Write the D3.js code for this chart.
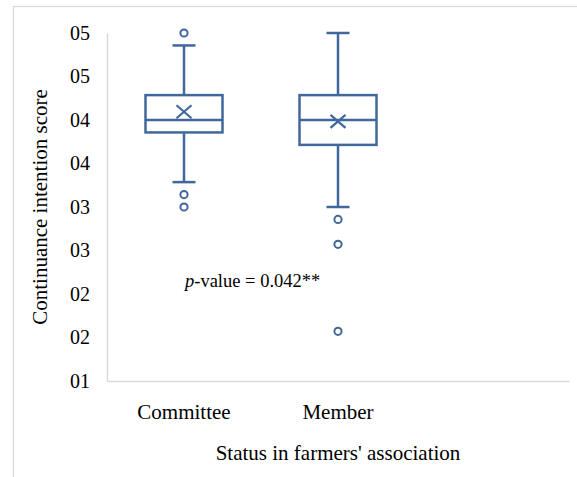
<!DOCTYPE html>
<html><head><meta charset="utf-8">
<script src="https://cdn.jsdelivr.net/npm/d3@7/dist/d3.min.js"></script>
<style>body{margin:0;background:#fff}svg{display:block}text{font-family:"Liberation Serif","Times New Roman",serif;fill:#000}</style>
</head><body><svg id="c" width="577" height="477"></svg>
<script>
const categories = ["Committee", "Member", ""];
const q1 = [3.857, 3.714];
const median = [4.0, 4.0];
const q3 = [4.286, 4.286];
const mean = [4.095, 3.985];
const whiskerLow = [3.286, 3.0];
const whiskerHigh = [4.857, 5.0];
const outliers = [[5.0, 3.143, 3.0], [2.857, 2.571, 1.571]];
const yTicks = [1, 1.5, 2, 2.5, 3, 3.5, 4, 4.5, 5];
const yTickLabels = ["01", "02", "02", "03", "03", "04", "04", "05", "05"];

(function () {
const svg = d3.select("#c");
const color = "#41689c";
const serif = '"Liberation Serif", "Times New Roman", serif';
const pL = 107, pR = 569, pT = 33, pB = 381;

svg.append("rect").attr("x", 13.5).attr("y", 6.5).attr("width", 600).attr("height", 500)
  .attr("fill", "none").attr("stroke", "#d9d9d9").attr("stroke-width", 1.2);

const x = d3.scaleBand().domain(categories).range([pL, pR]);
const y = d3.scaleLinear().domain([1, 5]).range([pB, pT]);

const yAxis = d3.axisLeft(y).tickValues(yTicks).tickSize(0).tickPadding(17)
  .tickFormat((d, i) => yTickLabels[i]);
const gy = svg.append("g").attr("transform", `translate(${pL},0)`).call(yAxis)
  .attr("font-family", serif).attr("font-size", 20);
gy.select(".domain").attr("stroke", "#d9d9d9").attr("stroke-width", 1.5);
gy.selectAll("text").attr("fill", "#000");

const xAxis = d3.axisBottom(x).tickSize(0).tickPadding(23);
const gx = svg.append("g").attr("transform", `translate(0,${pB})`).call(xAxis)
  .attr("font-family", serif).attr("font-size", 21);
gx.select(".domain").attr("stroke", "#d9d9d9").attr("stroke-width", 1.5);
gx.selectAll("text").attr("fill", "#000");

const bw = x.bandwidth() * 0.5;
const capW = 23;
const g = svg.append("g").attr("stroke", color).attr("stroke-width", 2.5).attr("fill", "none");
categories.slice(0, 2).forEach((c, i) => {
  const cx = x(c) + x.bandwidth() / 2;
  g.append("line").attr("x1", cx).attr("x2", cx).attr("y1", y(q3[i])).attr("y2", y(whiskerHigh[i]));
  g.append("line").attr("x1", cx).attr("x2", cx).attr("y1", y(q1[i])).attr("y2", y(whiskerLow[i]));
  g.append("line").attr("x1", cx - capW / 2).attr("x2", cx + capW / 2).attr("y1", y(whiskerHigh[i])).attr("y2", y(whiskerHigh[i]));
  g.append("line").attr("x1", cx - capW / 2).attr("x2", cx + capW / 2).attr("y1", y(whiskerLow[i])).attr("y2", y(whiskerLow[i]));
  g.append("rect").attr("x", cx - bw / 2).attr("width", bw).attr("y", y(q3[i])).attr("height", y(q1[i]) - y(q3[i])).attr("fill", "#fff");
  g.append("line").attr("x1", cx - bw / 2).attr("x2", cx + bw / 2).attr("y1", y(median[i])).attr("y2", y(median[i]));
  const my = y(mean[i]), s = 7.5, sy = 6.5;
  g.append("path").attr("d", `M${cx - s},${my - sy}L${cx + s},${my + sy}M${cx - s},${my + sy}L${cx + s},${my - sy}`).attr("stroke-width", 2.2);
  outliers[i].forEach(v => {
    g.append("circle").attr("cx", cx).attr("cy", y(v)).attr("r", 3.6).attr("stroke-width", 2).attr("fill", "#fff");
  });
});

const t = svg.append("text").attr("x", 185).attr("y", 287).style("font-size", "18.5px");
t.append("tspan").style("font-style", "italic").text("p");
t.append("tspan").text("-value = 0.042**");

svg.append("text").attr("x", (pL + pR) / 2).attr("y", 460).attr("text-anchor", "middle")
  .style("font-size", "21px").text("Status in farmers' association");
svg.append("text").attr("transform", `translate(47,${(pT + pB) / 2}) rotate(-90)`).attr("text-anchor", "middle")
  .style("font-size", "21px").text("Continuance intention score");
})();
</script></body></html>
